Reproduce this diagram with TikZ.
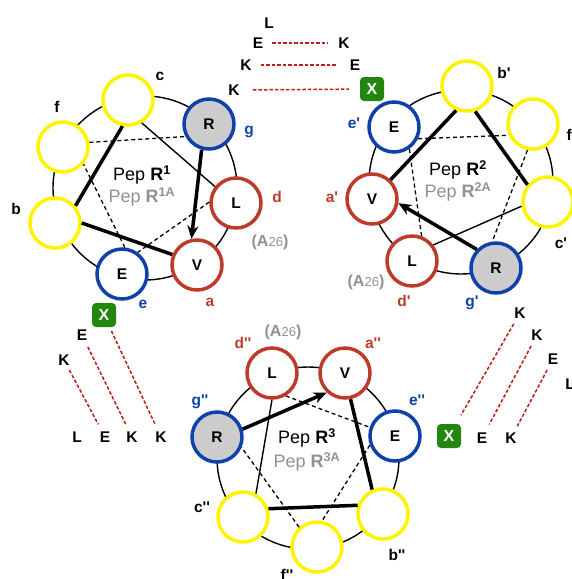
\documentclass[tikz,border=0pt]{standalone}
\usepackage{fontspec}
\setmainfont{Liberation Sans}[Ligatures=TeXOff]
\usetikzlibrary{arrows.meta}
\definecolor{cyel}{RGB}{255,243,0}
\definecolor{cred}{RGB}{190,58,42}
\definecolor{cblue}{RGB}{15,65,170}
\definecolor{cgray}{RGB}{204,204,204}
\definecolor{cgreen}{RGB}{35,135,15}
\definecolor{dred}{RGB}{190,30,20}
\definecolor{tgray}{RGB}{145,145,145}
\newcommand{\pr}{'}
\newcommand{\ppr}{''}
\begin{document}
\begin{tikzpicture}[x=1pt,y=-1pt,
  res/.style={circle, minimum size=50pt, inner sep=0pt, line width=3.5pt, fill=white, font=\fontsize{15.5}{15.5}\selectfont\bfseries},
  hyd/.style={res, draw=cyel},
  redres/.style={res, draw=cred},
  blueres/.style={res, draw=cblue},
  grayres/.style={res, draw=cblue, fill=cgray},
  ring/.style={line width=1.4pt},
  thk/.style={line width=3.5pt},
  thn/.style={line width=1.4pt},
  dsh/.style={line width=1.3pt, dash pattern=on 4pt off 3pt},
  rdash/.style={draw=dred, line width=1.5pt, dash pattern=on 3.5pt off 2pt},
  arr/.style={-{Stealth[length=13pt,width=11pt,inset=4pt]}},
  lbl/.style={inner sep=1pt, font=\fontsize{15.5}{15.5}\selectfont\bfseries},
  rlbl/.style={lbl, text=cred},
  blbl/.style={lbl, text=cblue},
  pep/.style={inner sep=0pt, font=\fontsize{18}{18}\selectfont},
  pepg/.style={pep, text=tgray},
  alab/.style={inner sep=0pt, text=tgray},
  xbox/.style={rounded corners=4pt, fill=cgreen, minimum size=24pt, inner sep=0pt, text=white, font=\fontsize{16}{16}\selectfont\bfseries}
]
\useasboundingbox (0,0) rectangle (571,579);
\newcommand{\atws}{{\fontsize{16}{16}\selectfont\bfseries (A}{\fontsize{13}{13}\selectfont 26}{\fontsize{16}{16}\selectfont\bfseries )}}

% ---------- Wheel 1 ----------
\draw[ring] (145,188) circle (92);
\node[hyd] (c1) at (128,100) {};
\node[grayres] (g1) at (209,124) {R};
\node[redres] (d1) at (236,203) {L};
\node[redres] (a1) at (197,265) {V};
\node[blueres] (e1) at (122,274) {E};
\node[hyd] (b1) at (55,223) {};
\node[hyd] (f1) at (63,147) {};
\node[lbl] (lc1) at (160,76) {c};
\node[blbl] (lg1) at (249,132) {g};
\node[rlbl] (ld1) at (277,197) {d};
\node[rlbl] (la1) at (210,302) {a};
\node[blbl] (le1) at (143,304) {e};
\node[lbl] (lb1) at (16,209) {b};
\node[lbl] (lf1) at (57,107) {f};
\node[alab] (A1) at (270,242) {\atws};
\node[pep] (p1) at (142,175) {Pep \textbf{R}\textsuperscript{\bfseries 1}};
\node[pepg] (q1) at (142,197) {Pep \textbf{R}\textsuperscript{\bfseries 1A}};
\draw[thk] (c1.-102) -- (b1.40);
\draw[thk] (b1.0) -- (a1.157);
\draw[thk,arr] (g1.-106) -- (a1.102);
\draw[thn] (c1.-59) -- (d1.142);
\draw[dsh] (d1.178) -- (e1.54);
\draw[dsh] (e1.84) -- (f1.-40);
\draw[dsh] (f1.10) -- (g1.208);

% ---------- Wheel 2 ----------
\draw[ring] (461,182) circle (92);
\node[hyd] (b2) at (467,86) {};
\node[hyd] (f2) at (533,124) {};
\node[hyd] (c2) at (548,202) {};
\node[grayres] (g2) at (496,268) {R};
\node[redres] (d2) at (412,261) {L};
\node[redres] (a2) at (372,199) {V};
\node[blueres] (e2) at (394,127) {E};
\node[lbl] (lb2) at (504,73) {b\pr};
\node[lbl] (lf2) at (571,135) {f\pr};
\node[lbl] (lc2) at (561,243) {c\pr};
\node[blbl] (lg2) at (472,303) {g\pr};
\node[rlbl] (ld2) at (404,301) {d\pr};
\node[rlbl] (la2) at (332,197) {a\pr};
\node[blbl] (le2) at (354,123) {e\pr};
\node[alab] (A2) at (366,282) {\atws};
\node[pep] (p2) at (458,170) {Pep \textbf{R}\textsuperscript{\bfseries 2}};
\node[pepg] (q2) at (458,192) {Pep \textbf{R}\textsuperscript{\bfseries 2A}};
\draw[thk,arr] (g2.136) -- (a2.-9);
\draw[thk] (a2.46) -- (b2.-114);
\draw[thk] (b2.-72) -- (c2.140);
\draw[thn] (c2.189) -- (d2.37);
\draw[dsh] (d2.69) -- (e2.-55);
\draw[dsh] (e2.-26) -- (f2.205);
\draw[dsh] (f2.-102) -- (g2.98);

% ---------- Wheel 3 ----------
\draw[ring] (308,458) circle (91);
\node[redres] (d3) at (272,373) {L};
\node[redres] (a3) at (345,373) {V};
\node[blueres] (e3) at (395,436) {E};
\node[hyd] (b3) at (383,514) {};
\node[hyd] (f3) at (317,547) {};
\node[hyd] (c3) at (243,517) {};
\node[grayres] (g3) at (217,437) {R};
\node[rlbl] (ld3) at (243,343) {d\ppr};
\node[alab] (A3) at (283,332) {\atws};
\node[rlbl] (la3) at (373,343) {a\ppr};
\node[blbl] (le3) at (417,400) {e\ppr};
\node[lbl] (lb3) at (397,555) {b\ppr};
\node[lbl] (lf3) at (287,575) {f\ppr};
\node[lbl] (lc3) at (202,507) {c\ppr};
\node[blbl] (lg3) at (200,402) {g\ppr};
\node[pep] (p3) at (307,438) {Pep \textbf{R}\textsuperscript{\bfseries 3}};
\node[pepg] (q3) at (307,462) {Pep \textbf{R}\textsuperscript{\bfseries 3A}};
\draw[thk,arr] (g3.17) -- (a3.227);
\draw[thk] (a3.-78) -- (b3.114);
\draw[thk] (b3.161) -- (c3.18);
\draw[thn] (c3.61) -- (d3.-90);
\draw[dsh] (d3.-59) -- (e3.161);
\draw[dsh] (e3.200) -- (f3.79);
\draw[dsh] (f3.132) -- (g3.-23);

% ---------- Top heptad ----------
\node[lbl] (tL) at (269,23) {L};
\node[lbl] (tE1) at (258,43) {E};
\node[lbl] (tK1) at (344,43) {K};
\node[lbl] (tK2) at (246,65) {K};
\node[lbl] (tE2) at (355,65) {E};
\node[lbl] (tK3) at (234,90) {K};
\node[xbox] (tX) at (372,89) {X};
\draw[rdash, shorten <=8pt, shorten >=9pt] (tE1) -- (tK1);
\draw[rdash, shorten <=8pt, shorten >=11pt] (tK2) -- (tE2);
\draw[rdash, shorten <=12pt, shorten >=11pt] (tK3) -- (tX);

% ---------- Bottom-left heptad ----------
\node[xbox] (lX) at (104,315) {X};
\node[lbl] (lE1) at (82,335) {E};
\node[lbl] (lK1) at (64,360) {K};
\node[lbl] (lL) at (77,437) {L};
\node[lbl] (lE2) at (105,437) {E};
\node[lbl] (lK2) at (132,437) {K};
\node[lbl] (lK3) at (161,437) {K};
\draw[rdash, shorten <=4pt, shorten >=7pt] (lK1) -- (lE2);
\draw[rdash, shorten <=6pt, shorten >=7pt] (lE1) -- (lK2);
\draw[rdash, shorten <=4pt, shorten >=7pt] (lX) -- (lK3);

% ---------- Bottom-right heptad ----------
\node[lbl] (rK1) at (520,313) {K};
\node[lbl] (rK2) at (537,335) {K};
\node[lbl] (rE1) at (553,359) {E};
\node[lbl] (rL) at (570,384) {L};
\node[xbox] (rX) at (449,436) {X};
\node[lbl] (rE2) at (482,438) {E};
\node[lbl] (rK3) at (511,438) {K};
\draw[rdash, shorten <=5pt, shorten >=10pt] (rK1) -- (rX);
\draw[rdash, shorten <=5pt, shorten >=8pt] (rK2) -- (rE2);
\draw[rdash, shorten <=5pt, shorten >=6pt] (rE1) -- (rK3);
\end{tikzpicture}
\end{document}
